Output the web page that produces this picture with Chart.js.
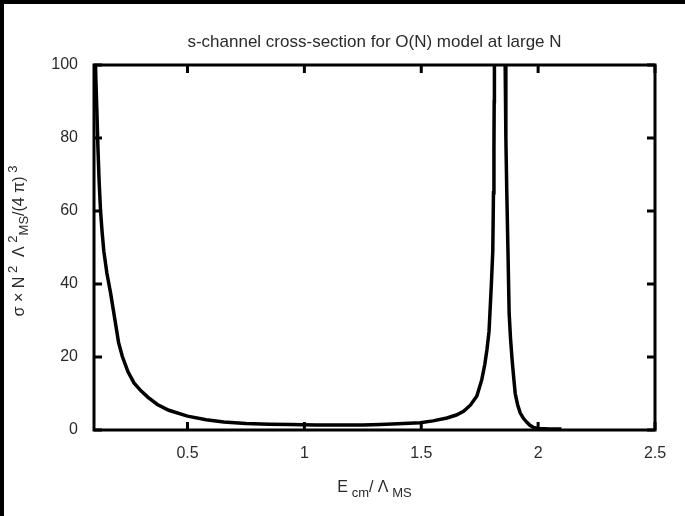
<!DOCTYPE html>
<html>
<head>
<meta charset="utf-8">
<title>s-channel cross-section</title>
<script src="https://cdn.jsdelivr.net/npm/chart.js@4.4.1/dist/chart.umd.min.js"></script>
<style>
  html, body { margin: 0; padding: 0; background: #000; }
  #wrap { position: absolute; left: 4px; top: 4px; width: 681px; height: 512px; background: #fff; }
  canvas { display: block; }
</style>
</head>
<body>
<div id="wrap"><canvas id="xsec" width="681" height="512"></canvas></div>
<script>
/* =============================================================================
   s-channel cross-section for O(N) model at large N
   ============================================================================= */

// E_cm / Lambda_MS
const energy = [
  0.103, 0.108, 0.112, 0.117, 0.122, 0.128, 0.135, 0.142, 0.155, 0.171,
  0.190, 0.205, 0.221, 0.245, 0.271, 0.300, 0.330, 0.371, 0.420, 0.500,
  0.580, 0.655, 0.750, 0.850, 0.940, 1.050, 1.150, 1.250, 1.325, 1.400,
  1.496, 1.550, 1.610, 1.650, 1.681, 1.710, 1.738, 1.759, 1.772, 1.781,
  1.790, 1.800, 1.806, 1.809, 1.811, 1.812, 1.813, 1.816, 1.836, 1.856,
  1.859, 1.862, 1.866, 1.871, 1.876, 1.882, 1.889, 1.896, 1.902, 1.912,
  1.923, 1.937, 1.952, 1.965, 1.980, 2.000, 2.050, 2.100
];

// sigma x N^2 Lambda^2_MS / (4 pi)^3
const sigma = [
  110, 96, 88, 77, 68, 60, 54, 49, 43, 37.5,
  30, 24, 20.2, 16, 12.9, 10.8, 9.0, 7.0, 5.4, 3.8,
  2.8, 2.2, 1.8, 1.6, 1.5, 1.4, 1.4, 1.4, 1.5, 1.7,
  2.0, 2.5, 3.3, 4.1, 5.1, 6.8, 9.3, 13.8, 18, 22,
  27, 40, 49, 65, 77, 90, 100, 120, 400, 120,
  100, 80, 65, 49, 32, 25, 19, 14, 10, 7,
  4.7, 3.2, 2.1, 1.3, 0.7, 0.4, 0.3, 0.25
];

const xTicks = [0.5, 1, 1.5, 2, 2.5];
const yTicks = [0, 20, 40, 60, 80, 100];

const FONT = '"Liberation Sans", Arial, sans-serif';
const TEXT_COLOR = '#2a2a2a';

/**
 * Draw a row of text pieces with gnuplot-like super/subscripts, centred on cx
 */
function drawRuns(ctx, runs, cx, baseline, size) {
  const small = Math.round(size * 0.8);
  let total = 0;
  runs.forEach(r => {
    ctx.font = `${r.mode === 'n' ? size : small}px ${FONT}`;
    total += ctx.measureText(r.text).width;
  });
  let x = cx - total / 2;
  runs.forEach(r => {
    const fs = r.mode === 'n' ? size : small;
    ctx.font = `${fs}px ${FONT}`;
    let dy = 0;
    if (r.mode === 'sup') dy = -size * 0.42;
    if (r.mode === 'sub') dy = size * 0.3;
    ctx.fillText(r.text, x, baseline + dy);
    x += ctx.measureText(r.text).width;
  });
}

/**
 * Frame, inward ticks and labels (gnuplot look)
 */
const framePlugin = {
  id: 'frame',
  afterDatasetsDraw(chart) {
    const ctx = chart.ctx;
    const { left, right, top, bottom } = chart.chartArea;
    const xs = chart.scales.x;
    const ys = chart.scales.y;
    const tl = 8;

    ctx.save();
    ctx.strokeStyle = '#000';
    ctx.lineWidth = 3;
    ctx.lineCap = 'butt';
    ctx.strokeRect(left, top, right - left, bottom - top);

    ctx.beginPath();
    xTicks.forEach(v => {
      const px = xs.getPixelForValue(v);
      ctx.moveTo(px, bottom); ctx.lineTo(px, bottom - tl);
      ctx.moveTo(px, top); ctx.lineTo(px, top + tl);
    });
    yTicks.forEach(v => {
      const py = ys.getPixelForValue(v);
      ctx.moveTo(left, py); ctx.lineTo(left + tl, py);
      ctx.moveTo(right, py); ctx.lineTo(right - tl, py);
    });
    ctx.stroke();
    ctx.restore();
  },
  afterDraw(chart) {
    const ctx = chart.ctx;
    const { left, right } = chart.chartArea;
    const cx = (left + right) / 2;

    ctx.save();
    ctx.fillStyle = TEXT_COLOR;
    ctx.textBaseline = 'alphabetic';

    // title
    ctx.font = `17px ${FONT}`;
    ctx.textAlign = 'center';
    ctx.fillText('s-channel cross-section for O(N) model at large N', cx, 42.5);
    ctx.textAlign = 'left';

    // x axis label
    drawRuns(ctx, [
      { text: 'E', mode: 'n' },
      { text: ' cm', mode: 'sub' },
      { text: '/ Λ', mode: 'n' },
      { text: ' MS', mode: 'sub' }
    ], cx, 488, 16);

    // y axis label (rotated)
    ctx.translate(19.5, 237);
    ctx.rotate(-Math.PI / 2);
    drawRuns(ctx, [
      { text: 'σ × N', mode: 'n' },
      { text: ' 2', mode: 'sup' },
      { text: '  Λ', mode: 'n' },
      { text: ' 2', mode: 'sup' },
      { text: 'MS', mode: 'sub' },
      { text: '/(4 π)', mode: 'n' },
      { text: ' 3', mode: 'sup' }
    ], 0, 0, 16);
    ctx.restore();
  }
};

function renderCrossSection(canvasId) {
  const canvas = document.getElementById(canvasId);
  const ctx = canvas.getContext('2d');

  const points = energy.map((e, i) => ({ x: e, y: sigma[i] }));

  const tickFont = { family: FONT, size: 16 };

  return new Chart(ctx, {
    type: 'line',
    data: {
      datasets: [{
        data: points,
        borderColor: '#000',
        borderWidth: 3.5,
        pointRadius: 0,
        tension: 0,
        fill: false
      }]
    },
    options: {
      responsive: false,
      animation: false,
      layout: { padding: { left: 0, right: 30, top: 61, bottom: 0 } },
      plugins: {
        legend: { display: false },
        tooltip: { enabled: false },
        title: { display: false }
      },
      scales: {
        x: {
          type: 'linear',
          min: 0.1,
          max: 2.5,
          grid: { display: false, drawTicks: false },
          border: { display: false },
          afterBuildTicks: (axis) => { axis.ticks = xTicks.map(v => ({ value: v })); },
          afterFit: (axis) => { axis.height = 86; },
          ticks: {
            font: tickFont,
            color: TEXT_COLOR,
            padding: 14,
            maxRotation: 0,
            autoSkip: false,
            callback: (v) => String(v)
          }
        },
        y: {
          min: 0,
          max: 100,
          grid: { display: false, drawTicks: false },
          border: { display: false },
          afterBuildTicks: (axis) => { axis.ticks = yTicks.map(v => ({ value: v })); },
          afterFit: (axis) => { axis.width = 90; },
          ticks: {
            font: tickFont,
            color: TEXT_COLOR,
            padding: 16,
            autoSkip: false,
            callback: (v) => String(v)
          }
        }
      }
    },
    plugins: [framePlugin]
  });
}

renderCrossSection('xsec');
</script>
</body>
</html>
